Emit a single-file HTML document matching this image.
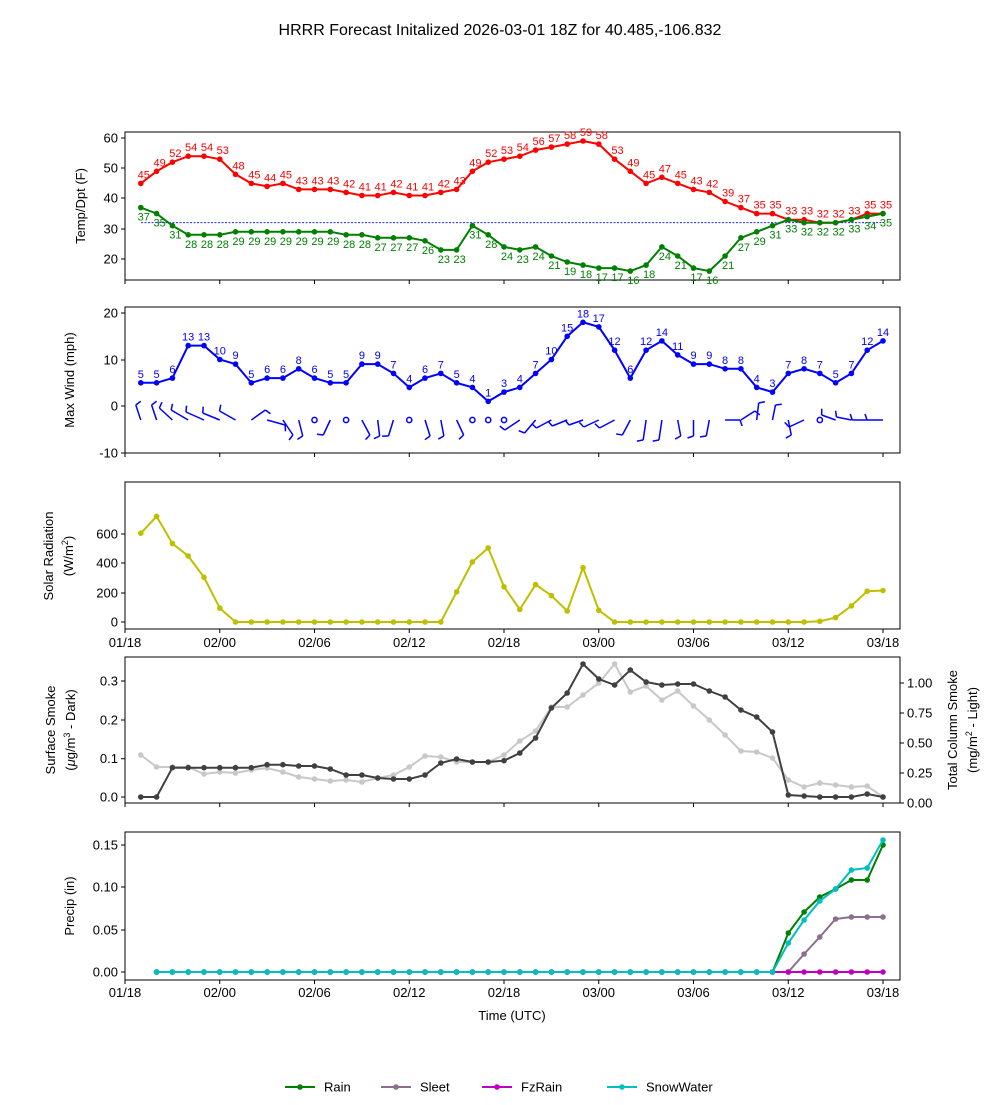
<!DOCTYPE html>
<html><head><meta charset="utf-8"><style>
body{margin:0;background:#fff;}
svg text{font-family:"Liberation Sans",sans-serif;}
</style></head><body>
<svg id="s" width="1000" height="1100" xmlns="http://www.w3.org/2000/svg"></svg>
<script>
const S=document.getElementById('s');let h='';
const X=i=>125+i*15.792;
function poly(pts,col,w){h+=`<polyline points="${pts.map(p=>p[0].toFixed(1)+','+p[1].toFixed(1)).join(' ')}" fill="none" stroke="${col}" stroke-width="${w}"/>`;pts.forEach(p=>h+=`<circle cx="${p[0].toFixed(1)}" cy="${p[1].toFixed(1)}" r="2.8" fill="${col}"/>`);}
function txt(x,y,t,o){o=o||{};h+=`<text x="${x}" y="${y}" font-size="${o.fs||13}" fill="${o.c||'#000'}" text-anchor="${o.a||'middle'}"${o.r?` transform="rotate(-90 ${x} ${y})"`:''}>${t}</text>`;}
function frame(y0,y1){h+=`<rect x="125" y="${y0}" width="775" height="${y1-y0}" fill="none" stroke="#000" stroke-width="1"/>`;for(let k=0;k<=8;k++){const x=125+k*6*15.792;h+=`<line x1="${x}" y1="${y1}" x2="${x}" y2="${y1+4}" stroke="#000"/>`;}}
function yt(y,l,right){if(right){h+=`<line x1="900" y1="${y}" x2="904" y2="${y}" stroke="#000"/>`;txt(907,y+4.5,l,{a:'start'});}else{h+=`<line x1="121" y1="${y}" x2="125" y2="${y}" stroke="#000"/>`;txt(118,y+4.5,l,{a:'end'});}}
function xl(y){const L=['01/18','02/00','02/06','02/12','02/18','03/00','03/06','03/12','03/18'];L.forEach((l,k)=>txt(125+k*6*15.792,y,l));}
txt(500,35,'HRRR Forecast Initalized 2026-03-01 18Z for 40.485,-106.832',{fs:16});
// Panel 1
frame(132,280);
[[60,138],[50,168],[40,198],[30,229],[20,259]].forEach(a=>yt(a[1],a[0]));
txt(85,206,'Temp/Dpt (F)',{r:1});
const Y1=v=>138+(60-v)*3.025;
h+=`<line x1="141" y1="${Y1(32)}" x2="883" y2="${Y1(32)}" stroke="#0000ff" stroke-width="0.8" stroke-dasharray="2,1.5"/>`;
const T=[45,49,52,54,54,53,48,45,44,45,43,43,43,42,41,41,42,41,41,42,43,49,52,53,54,56,57,58,59,58,53,49,45,47,45,43,42,39,37,35,35,33,33,32,32,33,35,35];
const D=[37,35,31,28,28,28,29,29,29,29,29,29,29,28,28,27,27,27,26,23,23,31,28,24,23,24,21,19,18,17,17,16,18,24,21,17,16,21,27,29,31,33,32,32,32,33,34,35];
poly(T.map((v,i)=>[X(i+1),Y1(v)]),'#ff0000',2);
poly(D.map((v,i)=>[X(i+1),Y1(v)]),'#008000',2);
T.forEach((v,i)=>txt(X(i+1)+3,Y1(v)-5,v,{c:'#ff0000',fs:11}));
D.forEach((v,i)=>txt(X(i+1)+3,Y1(v)+13,v,{c:'#008000',fs:11}));
// Panel 2
frame(307,453);
[[20,313],[10,360],[0,406],[-10,453]].forEach(a=>yt(a[1],a[0]));
txt(74,380,'Max Wind (mph)',{r:1});
const W=[5,5,6,13,13,10,9,5,6,6,8,6,5,5,9,9,7,4,6,7,5,4,1,3,4,7,10,15,18,17,12,6,12,14,11,9,9,8,8,4,3,7,8,7,5,7,12,14];
const Y2=v=>406-v*4.65;
poly(W.map((v,i)=>[X(i+1),Y2(v)]),'#0000ff',2);
W.forEach((v,i)=>txt(X(i+1),Y2(v)-5,v,{c:'#0000ff',fs:11}));
const B=[[-5,-15],[-5,-15],[-13,-12],[-17,-10],[-18,-8],[-17,-7],[-16,-9],[14,-10],[18,5],[10,15],[4,16],null,[-7,15],null,[8,15],[2,16],[-5,16],null,[5,16],[3,16],[7,15],null,null,null,[-15,10],[-11,13],[-15,8],[-15,6],[-14,5],[-15,7],[-15,8],[-8,15],[-3,20],[-3,20],[3,16],[0,16],[-3,16],[15,0],[14,-9],[2,-17],[3,-15],[3,15],[-15,7],null,[-14,-5],[-15,-3],[-15,0],[-16,0]];
B.forEach((b,i)=>{const x=X(i+1),y=420;if(!b){h+=`<circle cx="${x}" cy="${y}" r="2.6" fill="none" stroke="#0000ff" stroke-width="1.5"/>`;return;}
const ex=x+b[0],ey=y+b[1],L=Math.hypot(b[0],b[1]),ux=b[0]/L,uy=b[1]/L;
h+=`<line x1="${x}" y1="${y}" x2="${ex}" y2="${ey}" stroke="#0000ff" stroke-width="1.5"/><line x1="${ex}" y1="${ey}" x2="${ex-uy*6+ux*2}" y2="${ey+ux*6+uy*2}" stroke="#0000ff" stroke-width="1.5"/>`;});
// Panel 3
frame(482,629);
[[600,534],[400,563],[200,593],[0,622]].forEach(a=>yt(a[1],a[0]));
txt(53,556,'Solar Radiation',{r:1});txt(73,556,'(W/m<tspan baseline-shift="super" font-size="9">2</tspan>)',{r:1});
const R=[605,720,535,450,305,95,0,0,0,0,0,0,0,0,0,0,0,0,0,0,205,410,505,240,85,255,180,75,370,80,0,0,0,0,0,0,0,0,0,0,0,0,0,5,30,110,210,215];
poly(R.map((v,i)=>[X(i+1),622-v*0.1467]),'#bfbf00',2);
xl(647);
// Panel 4
frame(657,803);
[['0.0',797],['0.1',758.7],['0.2',720],['0.3',681]].forEach(a=>yt(a[1],a[0]));
[['0.00',803],['0.25',773],['0.50',743],['0.75',713],['1.00',683]].forEach(a=>yt(a[1],a[0],1));
h+=`<line x1="900" y1="657" x2="900" y2="803" stroke="#000"/>`;
txt(55,730,'Surface Smoke',{r:1});txt(75,730,'(<tspan font-style="italic">μ</tspan>g/m<tspan baseline-shift="super" font-size="9">3</tspan> - Dark)',{r:1});
txt(957,730,'Total Column Smoke',{r:1});txt(977,730,'(mg/m<tspan baseline-shift="super" font-size="9">2</tspan> - Light)',{r:1});
const LS=[755,767,767,767,774,772,773,770,768,772,777,779,781,780,782,778,775,767,756,757,762,762,762,755,741,731,707,707,695,683,664,692,686,700,691,706,720,735,751,752,758,780,787,783,785,787,786,797];
const DS=[797,797,767.7,767.7,767.7,767.7,767.7,767.7,764.7,764.7,766,766,769,775,775,778,779,779,775,763,759,762,762,760.7,753,738,708,693,664,679,685,670,682,685,684,684,691,697,710,717,732,795,796,797,797,797,794,797];
poly(LS.map((v,i)=>[X(i+1),v]),'#c8c8c8',2);
poly(DS.map((v,i)=>[X(i+1),v]),'#404040',2);
// Panel 5
frame(832,980);
[['0.15',845],['0.10',887],['0.05',930],['0.00',972]].forEach(a=>yt(a[1],a[0]));
txt(74,906,'Precip (in)',{r:1});
function pr(tail){const a=[];for(let i=2;i<=41;i++)a.push([X(i),972]);tail.forEach((v,k)=>a.push([X(42+k),v]));return a;}
poly(pr([933,912,897,889,880,880,845]),'#008000',2);
poly(pr([972,954,937,919,917,917,917]),'#8c6f8c',2);
poly(pr([972,972,972,972,972,972,972]),'#c000c0',2);
poly(pr([943,920,901,889,870,868,840]),'#00bfbf',2);
xl(997);txt(512,1020,'Time (UTC)');
// legend
[['Rain','#008000',285],['Sleet','#8c6f8c',381],['FzRain','#c000c0',482],['SnowWater','#00bfbf',607]].forEach(l=>{h+=`<line x1="${l[2]}" y1="1087" x2="${l[2]+30}" y2="1087" stroke="${l[1]}" stroke-width="2"/><circle cx="${l[2]+15}" cy="1087" r="2.8" fill="${l[1]}"/>`;txt(l[2]+39,1091.5,l[0],{a:'start'});});
S.innerHTML=h;
</script>
</body></html>
